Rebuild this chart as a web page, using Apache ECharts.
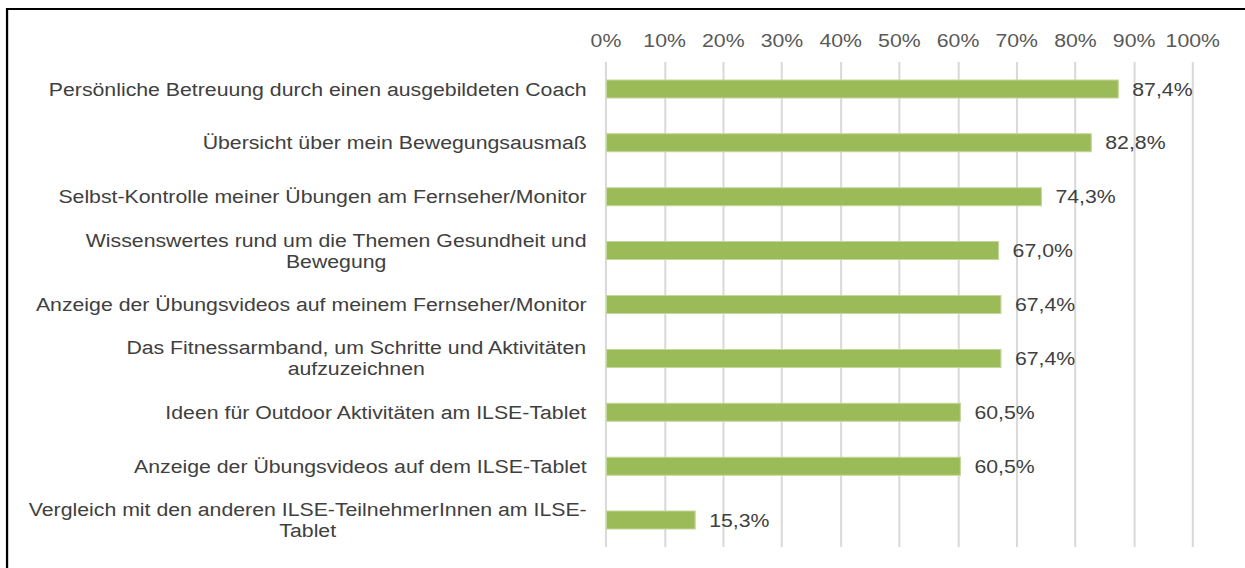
<!DOCTYPE html>
<html>
<head>
<meta charset="utf-8">
<script src="https://cdn.jsdelivr.net/npm/echarts@6/dist/echarts.min.js"></script>
<style>
html,body{margin:0;padding:0;background:#fff;overflow:hidden;}
#wrap{width:1245px;height:568px;overflow:hidden;position:relative;}
#chart{width:1112px;height:568px;transform:scaleX(1.12);transform-origin:0 0;}
</style>
</head>
<body>
<div id="wrap"><div id="chart"></div></div>
<script>
const categories = [
  "Persönliche Betreuung durch einen ausgebildeten Coach",
  "Übersicht über mein Bewegungsausmaß",
  "Selbst-Kontrolle meiner Übungen am Fernseher/Monitor",
  "Wissenswertes rund um die Themen Gesundheit und\nBewegung",
  "Anzeige der Übungsvideos auf meinem Fernseher/Monitor",
  "Das Fitnessarmband, um Schritte und Aktivitäten\naufzuzeichnen",
  "Ideen für Outdoor Aktivitäten am ILSE-Tablet",
  "Anzeige der Übungsvideos auf dem ILSE-Tablet",
  "Vergleich mit den anderen ILSE-TeilnehmerInnen am ILSE-\nTablet"
];
const values = [87.4, 82.8, 74.3, 67.0, 67.4, 67.4, 60.5, 60.5, 15.3];
const axisMin = 0, axisMax = 100, axisStep = 10;

const chart = echarts.init(document.getElementById('chart'), null, {renderer: 'svg'});
const font = '"Liberation Sans", Arial, sans-serif';
chart.setOption({
  animation: false,
  backgroundColor: '#ffffff',
  graphic: [{
    type: 'rect',
    shape: {x: 6.3, y: 9, width: 1300, height: 620},
    style: {fill: 'none', stroke: '#000000', lineWidth: 2}
  }],
  grid: {left: 541, right: 47, top: 62, bottom: 21, containLabel: false},
  xAxis: {
    type: 'value', position: 'top', min: axisMin, max: axisMax, interval: axisStep,
    axisLine: {show: false}, axisTick: {show: false},
    axisLabel: {formatter: '{value}%', color: '#595959', fontSize: 19, fontFamily: font, margin: 12},
    splitLine: {show: true, lineStyle: {color: '#D9D9D9', width: 1.8}}
  },
  yAxis: {
    type: 'category', inverse: true, data: categories,
    axisLine: {show: false}, axisTick: {show: false},
    axisLabel: {
      color: '#404040', fontSize: 19, fontFamily: font, margin: 17, align: 'right', lineHeight: 21,
      formatter: v => v.split('\n').map(s => '{c|' + s + '}').join('\n'),
      rich: {c: {align: 'center', color: '#404040', fontSize: 19, fontFamily: font, lineHeight: 21}}
    }
  },
  series: [{
    type: 'bar', data: values, barWidth: 19,
    itemStyle: {color: '#9BBB59', borderColor: '#C3D69B', borderWidth: 1},
    label: {
      show: true, position: 'right', distance: 12, color: '#404040', fontSize: 19, fontFamily: font,
      formatter: p => p.value.toFixed(1).replace('.', ',') + '%'
    }
  }]
});
</script>
</body>
</html>
